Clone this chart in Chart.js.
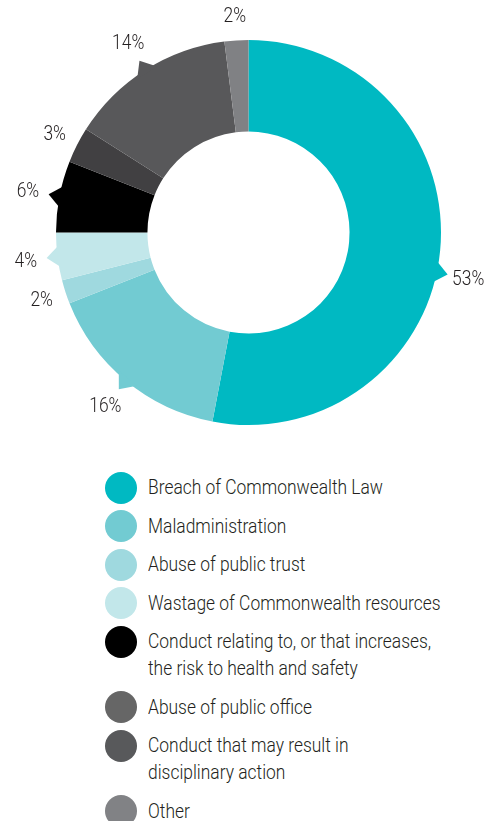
<!DOCTYPE html>
<html>
<head>
<meta charset="utf-8">
<script src="https://cdn.jsdelivr.net/npm/chart.js@4"></script>
<style>
  body { margin: 0; background: #fff; width: 492px; height: 821px; overflow: hidden; position: relative; }
  #chart { position: absolute; left: 0; top: 0; }
  #legend { position: absolute; left: 105px; top: 474px; margin: 0; padding: 0; list-style: none;
            font-family: Roboto, "Liberation Sans", sans-serif; font-weight: 300; font-size: 21px;
            line-height: 27px; color: #231f20; }
  #legend li { display: flex; align-items: flex-start; margin-bottom: 11.5px; }
  #legend .dot { width: 32px; height: 32px; border-radius: 50%; margin: -2.5px 11px -2.5px 0; flex: none; }
  #legend .txt { display: block; white-space: nowrap; transform-origin: 0 50%; }
</style>
</head>
<body>
<canvas id="chart" width="492" height="460"></canvas>
<ul id="legend"></ul>
<script>
const categories = [
  'Breach of Commonwealth Law',
  'Maladministration',
  'Abuse of public trust',
  'Wastage of Commonwealth resources',
  'Conduct relating to, or that increases,\nthe risk to health and safety',
  'Abuse of public office',
  'Conduct that may result in\ndisciplinary action',
  'Other'
];
const shares = [53, 16, 2, 4, 6, 3, 14, 2];
const shareLabels = ['53%', '16%', '2%', '4%', '6%', '3%', '14%', '2%'];

const sliceColours = ['#00b9c2', '#72cbd2', '#9fd9df', '#c2e7ea', '#000000', '#414042', '#58585a', '#808184'];
const legendColours = ['#00b9c2', '#72cbd2', '#9fd9df', '#c2e7ea', '#000000', '#666666', '#58595b', '#818285'];

const FONT = '300 21px Roboto, "Liberation Sans", sans-serif';

// horizontal squeeze so the text looks like the condensed face in the original
const probe = document.createElement('canvas').getContext('2d');
probe.font = FONT;
const squeeze = 235 / probe.measureText(categories[0]).width;

// pointer triangles + outside labels
const calloutPlugin = {
  id: 'callouts',
  afterDatasetsDraw(chart, args, opts) {
    const c = chart.ctx;
    const arcs = chart.getDatasetMeta(0).data;
    arcs.forEach((arc, i) => {
      const p = arc.getProps(['x', 'y', 'startAngle', 'endAngle', 'outerRadius'], true);
      const a = (p.startAngle + p.endAngle) / 2 + (opts.shift[i] || 0) * Math.PI / 180;
      const R = p.outerRadius;
      const pointer = shares[i] >= 4;
      c.save();
      if (pointer) {
        const d = 12 / R;
        c.fillStyle = sliceColours[i];
        c.beginPath();
        c.moveTo(p.x + (R - 3) * Math.cos(a - d), p.y + (R - 3) * Math.sin(a - d));
        c.lineTo(p.x + (R + 11) * Math.cos(a), p.y + (R + 11) * Math.sin(a));
        c.lineTo(p.x + (R - 3) * Math.cos(a + d), p.y + (R - 3) * Math.sin(a + d));
        c.closePath();
        c.fill();
      }
      const lr = R + (pointer ? 32 : 25);
      c.translate(p.x + lr * Math.cos(a), p.y + lr * Math.sin(a));
      c.scale(squeeze, 1);
      c.fillStyle = '#231f20';
      c.font = FONT;
      c.textAlign = 'center';
      c.textBaseline = 'middle';
      c.fillText(shareLabels[i], 0, 1);
      c.restore();
    });
  }
};

new Chart(document.getElementById('chart'), {
  type: 'doughnut',
  data: {
    labels: categories,
    datasets: [{
      data: shares,
      backgroundColor: sliceColours,
      borderWidth: 0,
      hoverOffset: 0
    }]
  },
  options: {
    responsive: false,
    animation: false,
    cutout: '52.5%',
    layout: { padding: { left: 56, right: 51, top: 40, bottom: 35 } },
    plugins: {
      legend: { display: false },
      tooltip: { enabled: false },
      callouts: { shift: { 0: 6.5 } }
    }
  },
  plugins: [calloutPlugin]
});

const legend = document.getElementById('legend');
categories.forEach((name, i) => {
  const li = document.createElement('li');
  const dot = document.createElement('span');
  dot.className = 'dot';
  dot.style.background = legendColours[i];
  const txt = document.createElement('span');
  txt.className = 'txt';
  txt.style.transform = 'scaleX(' + squeeze + ')';
  txt.innerHTML = name.replace('\n', '<br>');
  li.appendChild(dot);
  li.appendChild(txt);
  legend.appendChild(li);
});
</script>
</body>
</html>
